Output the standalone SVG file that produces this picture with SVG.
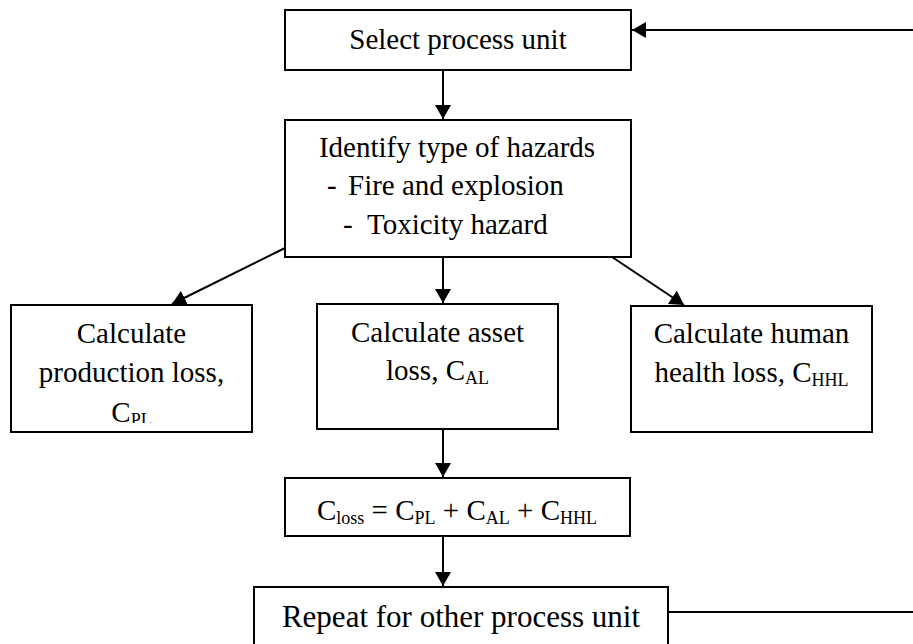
<svg xmlns="http://www.w3.org/2000/svg" width="913" height="644" viewBox="0 0 913 644">
<style>
  .box { fill: #ffffff; stroke: #000000; stroke-width: 2; }
  .t { font-family: "Liberation Serif", "Times New Roman", serif; font-size: 29px; fill: #000000; }
  .c { text-anchor: middle; }
  .sub { font-size: 18px; }
  .conn line { stroke: #000000; stroke-width: 2; fill: none; }
</style>
<defs>
  <marker id="arr" viewBox="0 0 14 16" refX="14" refY="8" markerWidth="14" markerHeight="16" markerUnits="userSpaceOnUse" orient="auto">
    <path d="M0,0 L14,8 L0,16 z" fill="#000000"/>
  </marker>
  <clipPath id="clip3">
    <rect x="11" y="305" width="241" height="118"/>
  </clipPath>
</defs>
<rect x="0" y="0" width="913" height="644" fill="#ffffff"/>

<g id="connectors" class="conn">
  <line x1="913" y1="30" x2="632" y2="30" marker-end="url(#arr)"/>
  <line x1="668" y1="612" x2="913" y2="612"/>
  <line x1="443" y1="70" x2="443" y2="119" marker-end="url(#arr)"/>
  <line x1="285" y1="248" x2="172" y2="304" marker-end="url(#arr)"/>
  <line x1="443" y1="257" x2="443" y2="303" marker-end="url(#arr)"/>
  <line x1="612" y1="257" x2="684" y2="305" marker-end="url(#arr)"/>
  <line x1="443" y1="429" x2="443" y2="477" marker-end="url(#arr)"/>
  <line x1="443" y1="536" x2="443" y2="586" marker-end="url(#arr)"/>
</g>

<g id="select">
  <rect class="box" x="285" y="10" width="346" height="60"/>
  <text class="t c" x="458" y="49">Select process unit</text>
</g>

<g id="identify">
  <rect class="box" x="285" y="120" width="346" height="137"/>
  <text class="t c" x="457" y="157">Identify type of hazards</text>
  <text class="t" x="327" y="195">-</text>
  <text class="t" x="348" y="195">Fire and explosion</text>
  <text class="t" x="343" y="234">-</text>
  <text class="t" x="367" y="234">Toxicity hazard</text>
</g>

<g id="production">
  <rect class="box" x="11" y="305" width="241" height="127"/>
  <text class="t c" x="131.5" y="343">Calculate</text>
  <text class="t c" x="131.5" y="382">production loss,</text>
  <g clip-path="url(#clip3)">
    <text class="t c" x="131.5" y="422">C<tspan class="sub" dy="4">PL</tspan></text>
  </g>
</g>

<g id="asset">
  <rect class="box" x="317" y="304" width="241" height="125"/>
  <text class="t c" x="437.5" y="342">Calculate asset</text>
  <text class="t c" x="437.5" y="380">loss, C<tspan class="sub" dy="4">AL</tspan></text>
</g>

<g id="human">
  <rect class="box" x="631" y="306" width="241" height="126"/>
  <text class="t c" x="751.5" y="343">Calculate human</text>
  <text class="t c" x="751.5" y="382">health loss, C<tspan class="sub" dy="4">HHL</tspan></text>
</g>

<g id="total">
  <rect class="box" x="285" y="478" width="345" height="58"/>
  <text class="t c" x="457" y="520">C<tspan class="sub" dy="4">loss</tspan><tspan dy="-4"> = C</tspan><tspan class="sub" dy="4">PL</tspan><tspan dy="-4"> + C</tspan><tspan class="sub" dy="4">AL</tspan><tspan dy="-4"> + C</tspan><tspan class="sub" dy="4">HHL</tspan></text>
</g>

<g id="repeat">
  <rect class="box" x="254" y="587" width="414" height="70"/>
  <text class="t c" x="461" y="627" style="font-size:31px">Repeat for other process unit</text>
</g>
</svg>
